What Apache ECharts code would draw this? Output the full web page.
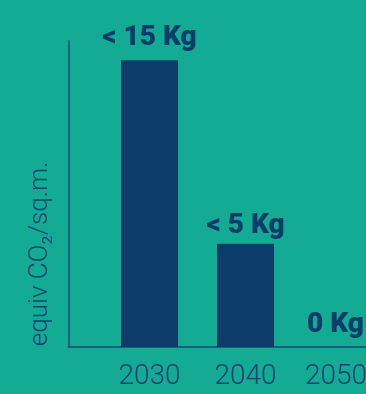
<!DOCTYPE html>
<html>
<head>
<meta charset="utf-8">
<script src="https://cdn.jsdelivr.net/npm/echarts@6/dist/echarts.min.js"></script>
<style>
  html, body { margin: 0; padding: 0; background: #13ab93; }
  #chart { width: 366px; height: 394px; }
</style>
</head>
<body>
<div id="chart"></div>
<script>
// years shown under the bars
const years = [2030, 2040, 2050]
// kg CO2 equivalent per sq.m. (bar heights)
const values = [15, 5.4, 0]
// labels printed above the bars
const barLabels = ['< 15 Kg', '< 5 Kg', '0 Kg']

const navy = '#0c3c69'

const chart = echarts.init(document.getElementById('chart'))

chart.setOption({
  backgroundColor: '#13ab93',
  animation: false,
  grid: { left: 68.5, right: 0, top: 41, bottom: 47, outerBoundsMode: 'none', containLabel: false },
  xAxis: {
    type: 'value',
    min: 2021.56,
    max: 2052.55,
    splitLine: { show: false },
    axisTick: { show: false },
    axisLine: { show: true, lineStyle: { color: '#164a78', width: 1.5 } },
    axisLabel: {
      customValues: years,
      // last year is pulled in so it fits on the page
      formatter: v => v === years[years.length - 1] ? '{last|' + v + '}' : String(v),
      margin: 16,
      color: '#15406f',
      fontFamily: 'Roboto',
      fontWeight: 300,
      fontSize: 28,
      rich: {
        last: {
          color: '#15406f',
          fontFamily: 'Roboto',
          fontWeight: 300,
          fontSize: 28,
          padding: [0, 11, 0, 0]
        }
      }
    }
  },
  yAxis: {
    type: 'value',
    min: 0,
    max: 16,
    name: 'equiv CO\u2082/sq.m.',
    nameLocation: 'middle',
    nameGap: 15,
    nameTextStyle: {
      color: '#15406f',
      fontFamily: 'Roboto',
      fontWeight: 300,
      fontSize: 26,
      padding: [0, 120, 0, 0]
    },
    splitLine: { show: false },
    axisTick: { show: false },
    axisLabel: { show: false },
    axisLine: { show: true, lineStyle: { color: '#164a78', width: 1.5 } }
  },
  series: [{
    type: 'bar',
    barWidth: 57,
    data: years.map((y, i) => ({
      value: [y, values[i]],
      // the middle label sits a little closer to its bar, the last one is nudged in
      label: { distance: i === 1 ? 4 : 8, offset: i === 2 ? [-6, 0] : [0, 0] }
    })),
    itemStyle: { color: navy },
    label: {
      show: true,
      position: 'top',
      formatter: p => barLabels[p.dataIndex],
      color: navy,
      fontFamily: 'Roboto',
      fontWeight: 900,
      fontSize: 28
    }
  }]
})
</script>
</body>
</html>
